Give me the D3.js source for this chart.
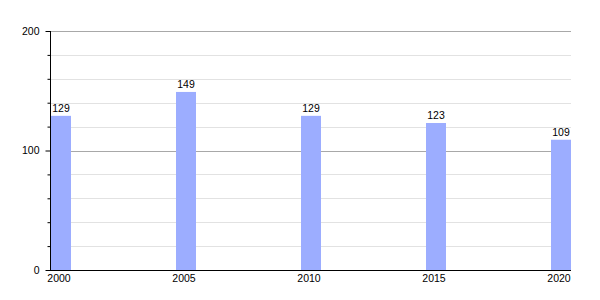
<!DOCTYPE html>
<html>
<head>
<meta charset="utf-8">
<script src="https://cdn.jsdelivr.net/npm/d3@7"></script>
<style>
    body { margin: 0; background: #fff; }
    text { font-family: "Liberation Sans", Arial, sans-serif; font-size: 10.5px; fill: #000; }
</style>
</head>
<body>
<div id="chart"></div>
<script>
// data
let years = [2000, 2005, 2010, 2015, 2020];
let values = [129, 149, 129, 123, 109];
let majorTicks = [0, 100, 200];
let minorTicks = [20, 40, 60, 80, 120, 140, 160, 180];

let width = 600, height = 300;
let margin = {top: 31, right: 29, bottom: 30, left: 50};
let barWidth = 20;

let svg = d3.select("#chart").append("svg")
    .attr("width", width)
    .attr("height", height);

let x = d3.scaleLinear()
    .domain([2000, 2020])
    .range([margin.left + 1, width - margin.right - barWidth]);

let y = d3.scaleLinear()
    .domain([0, 200])
    .range([height - margin.bottom, margin.top]);

// grid lines
svg.append("g").selectAll("line")
    .data(minorTicks)
    .enter().append("line")
    .attr("x1", margin.left)
    .attr("x2", width - margin.right)
    .attr("y1", d => Math.round(y(d)) + 0.5)
    .attr("y2", d => Math.round(y(d)) + 0.5)
    .attr("stroke", "#e2e2e2");

svg.append("g").selectAll("line")
    .data(majorTicks.filter(d => d > 0))
    .enter().append("line")
    .attr("x1", margin.left)
    .attr("x2", width - margin.right)
    .attr("y1", d => Math.round(y(d)) + 0.5)
    .attr("y2", d => Math.round(y(d)) + 0.5)
    .attr("stroke", "#a8a8a8");

// bars
svg.append("g").selectAll("rect")
    .data(values)
    .enter().append("rect")
    .attr("x", (d, i) => x(years[i]))
    .attr("y", d => y(d))
    .attr("width", barWidth)
    .attr("height", d => y(0) - y(d))
    .attr("fill", "#9cadff");

// value labels
svg.append("g").selectAll("text")
    .data(values)
    .enter().append("text")
    .attr("x", (d, i) => x(years[i]) + barWidth / 2)
    .attr("y", d => y(d) - 4)
    .attr("text-anchor", "middle")
    .text(d => d);

// y axis
let yAxis = d3.axisLeft(y)
    .tickValues(majorTicks)
    .tickSize(5)
    .tickPadding(6);

let yAxisG = svg.append("g")
    .attr("transform", `translate(${margin.left + 0.5}, 0)`)
    .call(yAxis);
yAxisG.select(".domain").remove();
yAxisG.selectAll("text").style("font-family", null).style("font-size", null).attr("font-family", null).attr("font-size", null);
yAxisG.attr("font-family", null).attr("font-size", null);
yAxisG.selectAll("line").attr("stroke", "#000");

let yMinor = d3.axisLeft(y)
    .tickValues(minorTicks)
    .tickSize(3)
    .tickFormat("");
let yMinorG = svg.append("g")
    .attr("transform", `translate(${margin.left + 0.5}, 0)`)
    .call(yMinor);
yMinorG.select(".domain").remove();

svg.append("line")
    .attr("x1", margin.left + 0.5)
    .attr("x2", margin.left + 0.5)
    .attr("y1", y(200))
    .attr("y2", y(0))
    .attr("stroke", "#000");

// x axis
svg.append("line")
    .attr("x1", margin.left)
    .attr("x2", width - margin.right)
    .attr("y1", y(0) + 0.5)
    .attr("y2", y(0) + 0.5)
    .attr("stroke", "#000");

svg.append("g").selectAll("text")
    .data(years)
    .enter().append("text")
    .attr("x", d => x(d) + barWidth / 2 - 2)
    .attr("y", y(0) + 12)
    .attr("text-anchor", "middle")
    .text(d => d);
</script>
</body>
</html>
